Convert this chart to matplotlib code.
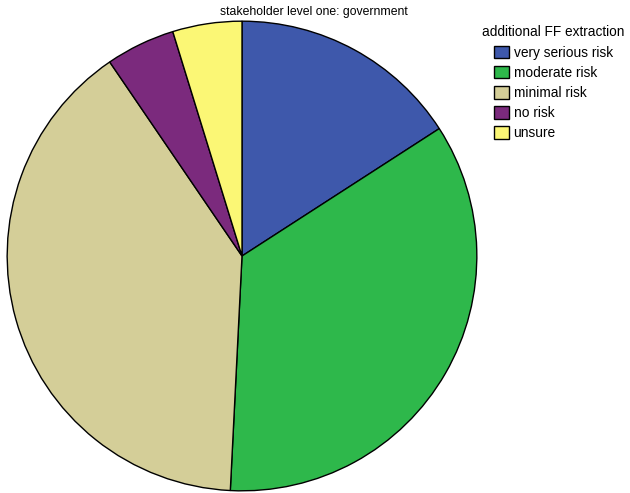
import matplotlib.pyplot as plt

plt.rcParams["font.family"] = ["Liberation Sans", "DejaVu Sans"]

categories = ["very serious risk", "moderate risk", "minimal risk", "no risk", "unsure"]
counts = [10, 22, 25, 3, 3]
colors = ["#3e58ab", "#2eb84b", "#d4ce98", "#7b2a7d", "#fbf775"]

W, H = 630, 493
fig = plt.figure(figsize=(W / 100, H / 100), dpi=100)

# pie sits in a square box: centre (242, 256), radius 236 px
cx, cy, r = 242, 256, 236
ax = fig.add_axes([(cx - r) / W, (H - cy - r) / H, 2 * r / W, 2 * r / H])
wedges, _ = ax.pie(
    counts,
    colors=colors,
    startangle=90,
    counterclock=False,
    radius=1,
    wedgeprops={"edgecolor": "black", "linewidth": 1.0},
)
ax.set_xlim(-1.005, 1.005)
ax.set_ylim(-1.005, 1.005)
ax.set_aspect("equal")
ax.axis("off")

fig.text(314 / W, 1 - 12 / H, "stakeholder level one: government",
         ha="center", va="center", fontsize=8.8)

leg = fig.legend(
    wedges,
    categories,
    title="additional FF extraction",
    loc="upper left",
    bbox_to_anchor=(482 / W, 1 - 25.5 / H),
    frameon=False,
    fontsize=9.9,
    title_fontsize=9.8,
    handlelength=1.1,
    handleheight=1.05,
    handletextpad=0.35,
    labelspacing=0.44,
    borderaxespad=0,
    borderpad=0,
    alignment="center",
)

fig.savefig("out.png", dpi=100)
